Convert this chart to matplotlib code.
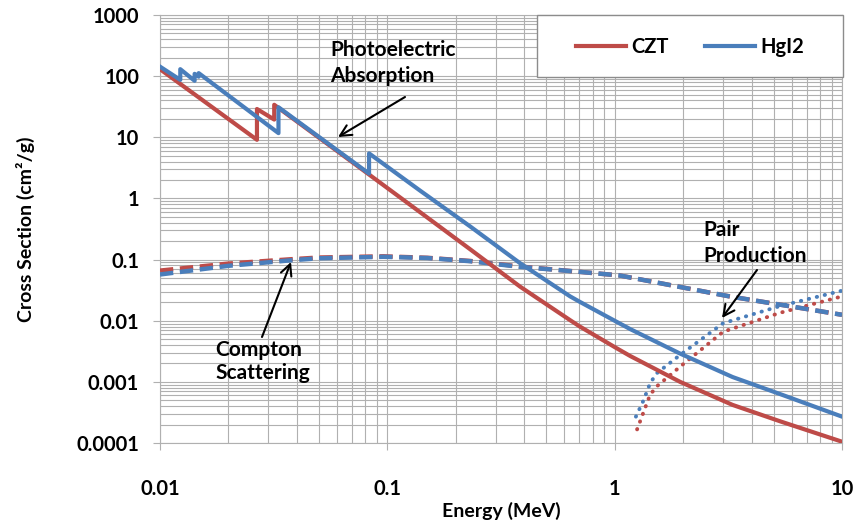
import numpy as np
import matplotlib.pyplot as plt
from matplotlib.patches import Rectangle

plt.rcParams['font.family'] = ['Lato', 'DejaVu Sans']
plt.rcParams['font.weight'] = 'bold'

red = '#BE4B48'
blue = '#4A7EBB'
grid_c = '#B0B0B0'

# photoelectric absorption (edges repeated at the same energy)
czt_pe_e = [0.01, 0.0267, 0.0267, 0.0318, 0.0318, 0.0845, 0.1, 0.139, 0.231,
            0.384, 0.637, 0.70, 1.02, 1.17, 1.94, 3.3, 5.35, 10]
czt_pe = [130, 9.1, 29, 19.5, 34, 2.35, 1.48, 0.6, 0.148,
          0.036, 0.0102, 0.0081, 0.00355, 0.00265, 0.001, 0.00042, 0.000226, 0.000105]
hgi_pe_e = [0.01, 0.01228, 0.01228, 0.0142, 0.0142, 0.0148, 0.0148, 0.0332, 0.0332,
            0.0831, 0.0831, 0.139, 0.231, 0.384, 0.637, 0.70, 1.02, 1.17, 1.94,
            3.3, 5.35, 10]
hgi_pe = [143, 87, 130, 84, 109, 98, 112, 11.7, 31,
          2.55, 5.45, 1.35, 0.35, 0.087, 0.025, 0.0205, 0.0096, 0.0073, 0.0029,
          0.0012, 0.00063, 0.00027]

# compton scattering
comp_e = [0.01, 0.02, 0.0373, 0.05, 0.096, 0.15, 0.231, 0.384, 0.7, 1.05, 3.2, 10]
czt_comp = [0.066, 0.086, 0.101, 0.108, 0.113, 0.107, 0.095, 0.077, 0.063, 0.055, 0.025, 0.0125]
hgi_comp = [0.057, 0.079, 0.097, 0.105, 0.111, 0.106, 0.094, 0.076, 0.063, 0.055, 0.025, 0.0125]

# pair production
czt_pair_e = [1.255, 1.34, 1.43, 1.53, 1.94, 3.0, 5.35, 10]
czt_pair = [0.000167, 0.00032, 0.00061, 0.00084, 0.00177, 0.0066, 0.0135, 0.025]
hgi_pair_e = [1.24, 1.34, 1.43, 1.53, 1.94, 3.0, 5.35, 10]
hgi_pair = [0.00027, 0.0005, 0.00094, 0.00138, 0.00275, 0.0091, 0.0174, 0.031]

xticks = [0.01, 0.1, 1, 10]
xlabels = ['0.01', '0.1', '1', '10']
yticks = [0.0001, 0.001, 0.01, 0.1, 1, 10, 100, 1000]
ylabels = ['0.0001', '0.001', '0.01', '0.1', '1', '10', '100', '1000']

fig = plt.figure(figsize=(8.58, 5.23), dpi=100)
ax = fig.add_axes([160 / 858, 1 - 443 / 523, 682 / 858, 428 / 523])

lw = 3.0
ax.plot(comp_e, czt_comp, color=red, lw=3.2, dashes=(3.0, 1.5), zorder=3)
ax.plot(comp_e, hgi_comp, color=blue, lw=3.2, dashes=(3.0, 1.5), zorder=4)
ax.plot(czt_pair_e, czt_pair, color=red, lw=2.8, dashes=(0.1, 2.0),
        dash_capstyle='round', zorder=3)
ax.plot(hgi_pair_e, hgi_pair, color=blue, lw=2.8, dashes=(0.1, 2.0),
        dash_capstyle='round', zorder=3)
ax.plot(czt_pe_e, czt_pe, color=red, lw=lw, label='CZT', zorder=5)
ax.plot(hgi_pe_e, hgi_pe, color=blue, lw=lw, label='HgI2', zorder=6)

ax.set_xscale('log')
ax.set_yscale('log')
ax.set_xlim(0.01, 10)
ax.set_ylim(0.0001, 1000)
ax.set_xticks(xticks, xlabels)
ax.set_yticks(yticks, ylabels)
ax.grid(True, which='both', color=grid_c, lw=0.8)
ax.set_axisbelow(True)
ax.tick_params(which='major', length=5, color=grid_c, labelsize=14.5)
ax.tick_params(axis='x', which='major', pad=21)
ax.tick_params(axis='y', which='major', pad=10)
ax.tick_params(which='minor', length=0)
for s in ax.spines.values():
    s.set_color(grid_c)
    s.set_linewidth(0.8)

ax.set_xlabel('Energy (MeV)', fontsize=14, fontweight='bold', labelpad=2)
ax.set_ylabel('Cross Section (cm²/g)', fontsize=14, fontweight='bold')
ax.yaxis.set_label_coords(-0.183, 0.5)

# annotations, positioned in figure pixels
H = 523
arrow = dict(arrowstyle='->,head_length=0.8,head_width=0.4', color='black', lw=1.5,
             shrinkA=0, shrinkB=0)
ax.annotate('', xy=(338, H - 137), xytext=(405, H - 97), xycoords='figure pixels',
            textcoords='figure pixels', arrowprops=arrow, zorder=8)
ax.annotate('', xy=(291, H - 262), xytext=(262, H - 337), xycoords='figure pixels',
            textcoords='figure pixels', arrowprops=arrow, zorder=8)
ax.annotate('', xy=(722, H - 318), xytext=(757, H - 270), xycoords='figure pixels',
            textcoords='figure pixels', arrowprops=arrow, zorder=8)
fig.text(330 / 858, 1 - 40 / H, 'Photoelectric\nAbsorption', fontsize=15,
         va='top', ha='left', linespacing=1.4)
fig.text(215 / 858, 1 - 340 / H, 'Compton\nScattering', fontsize=15,
         va='top', ha='left', linespacing=1.2)
fig.text(703 / 858, 1 - 220 / H, 'Pair\nProduction', fontsize=15,
         va='top', ha='left', linespacing=1.4)

# legend box
fig.patches.append(Rectangle((537 / 858, 1 - 77 / H), 306 / 858, 62 / H,
                             transform=fig.transFigure, facecolor='white',
                             edgecolor='#8C8C8C', lw=1, zorder=9))
leg = fig.legend(loc='center', bbox_to_anchor=(690 / 858, 1 - 47 / H), ncol=2,
                 frameon=False, fontsize=14.5, handlelength=2.5, handletextpad=0.25,
                 columnspacing=1.8)
leg.set_zorder(10)

fig.savefig('out.png', dpi=100)
